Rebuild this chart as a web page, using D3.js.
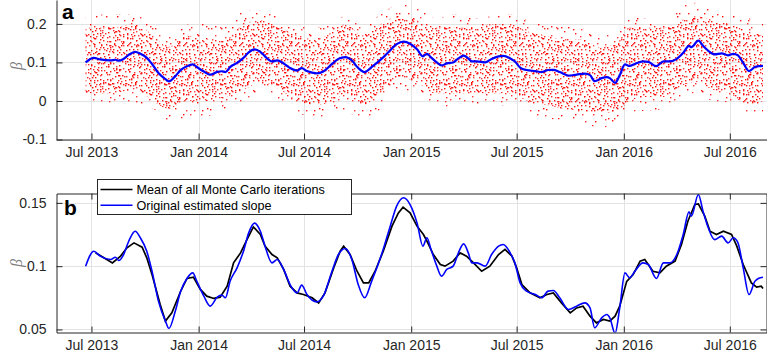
<!DOCTYPE html>
<html>
<head>
<meta charset="utf-8">
<script src="https://cdn.jsdelivr.net/npm/d3@7"></script>
<style>
  body { margin: 0; background: #fff; }
  svg { display: block; font-family: 'Liberation Sans', Arial, sans-serif; }
</style>
</head>
<body>
<div id="chart"></div>
<script>
// original estimated slope (blue, both panels)
const slopeDates = [
  '2013-06-21','2013-07-05','2013-07-16','2013-08-03','2013-08-11','2013-08-17','2013-08-25','2013-09-03','2013-09-14','2013-09-23',
  '2013-10-04','2013-10-13','2013-10-24','2013-11-05','2013-11-11','2013-11-22','2013-12-01','2013-12-12','2013-12-22','2013-12-29',
  '2014-01-10','2014-01-21','2014-02-02','2014-02-10','2014-02-16','2014-02-24','2014-03-08','2014-03-19','2014-03-28','2014-04-07',
  '2014-04-17','2014-04-25','2014-05-07','2014-05-16','2014-05-27','2014-06-07','2014-06-19','2014-06-27','2014-07-06','2014-07-23',
  '2014-08-03','2014-08-18','2014-08-29','2014-09-10','2014-09-21','2014-10-02','2014-10-13','2014-10-25','2014-11-12','2014-11-26',
  '2014-12-07','2014-12-19','2014-12-30',
  '2015-01-11','2015-01-21','2015-01-28','2015-02-04','2015-02-14','2015-02-22','2015-03-03','2015-03-14','2015-03-23','2015-04-01',
  '2015-04-09','2015-04-15','2015-04-24','2015-05-08','2015-05-19','2015-05-31','2015-06-08','2015-06-20','2015-06-28','2015-07-07',
  '2015-07-18','2015-08-02','2015-08-13','2015-08-24','2015-09-02','2015-09-13','2015-09-28','2015-10-12','2015-10-26','2015-11-04',
  '2015-11-12','2015-11-24','2015-12-03','2015-12-08','2015-12-17','2015-12-25',
  '2016-01-03','2016-01-11','2016-01-20','2016-02-03','2016-02-12','2016-02-26','2016-03-09','2016-03-20','2016-04-01','2016-04-12',
  '2016-04-22','2016-04-26','2016-05-08','2016-05-16','2016-05-25','2016-06-05','2016-06-17','2016-06-28','2016-07-07','2016-07-15',
  '2016-07-24','2016-08-03','2016-08-13','2016-08-19','2016-08-27'
];
const slopeValues = [
  0.100,0.1118,0.1079,0.1053,0.107,0.1045,0.109,0.1197,0.1276,0.1224,
  0.1118,0.096,0.0724,0.0566,0.0508,0.0645,0.080,0.0903,0.0947,0.088,
  0.0763,0.0684,0.0755,0.0771,0.075,0.088,0.0987,0.1118,0.1263,0.134,
  0.1276,0.1158,0.1026,0.1053,0.0974,0.0855,0.0789,0.085,0.0776,0.0718,
  0.0763,0.096,0.1092,0.114,0.1053,0.0855,0.075,0.088,0.1105,0.1316,
  0.1474,0.154,0.1487,
  0.1342,0.1158,0.1224,0.1132,0.100,0.0921,0.0974,0.100,0.1105,0.1176,
  0.1105,0.1026,0.1026,0.100,0.1092,0.1158,0.1171,0.1105,0.1026,0.0868,
  0.0803,0.0776,0.075,0.0803,0.0808,0.075,0.0658,0.0684,0.071,0.067,
  0.0513,0.0592,0.0618,0.0592,0.047,0.067,
  0.0947,0.0908,0.096,0.1026,0.1013,0.0903,0.1026,0.1026,0.1092,0.125,
  0.1429,0.1395,0.1566,0.1434,0.1303,0.121,0.1237,0.1184,0.1224,0.1184,
  0.0987,0.0776,0.088,0.0903,0.0913
];

// mean of all Monte Carlo iterations (black, panel b)
const meanDates = [
  '2013-07-08','2013-07-16','2013-08-06','2013-08-20','2013-08-31','2013-09-12','2013-09-26','2013-10-04','2013-10-13','2013-10-27',
  '2013-11-05','2013-11-16','2013-12-01','2013-12-12','2013-12-23',
  '2014-01-04','2014-01-15','2014-01-27','2014-02-07','2014-02-19','2014-03-02','2014-03-14','2014-03-25','2014-04-05','2014-04-17',
  '2014-04-25','2014-05-07','2014-05-16','2014-05-27','2014-06-07','2014-06-19','2014-06-30','2014-07-15','2014-07-26','2014-08-06',
  '2014-08-21','2014-09-01','2014-09-07','2014-09-18','2014-09-30','2014-10-11','2014-10-20','2014-10-31','2014-11-14','2014-11-29',
  '2014-12-10','2014-12-18','2014-12-30',
  '2015-01-11','2015-01-22','2015-01-28','2015-02-08','2015-02-20','2015-02-28','2015-03-14','2015-03-26','2015-04-06','2015-04-18',
  '2015-05-02','2015-05-16','2015-05-31','2015-06-11','2015-06-23','2015-07-01','2015-07-10','2015-07-24','2015-08-10','2015-08-22',
  '2015-09-02','2015-09-16','2015-10-01','2015-10-12','2015-10-23','2015-11-04','2015-11-15','2015-11-27','2015-12-08','2015-12-17',
  '2015-12-25',
  '2016-01-06','2016-01-17','2016-01-29','2016-02-06','2016-02-20','2016-03-03','2016-03-14','2016-03-29','2016-04-09','2016-04-20',
  '2016-05-02','2016-05-08','2016-05-19','2016-05-28','2016-06-08','2016-06-20','2016-07-04','2016-07-13','2016-07-24','2016-08-07',
  '2016-08-16','2016-08-24','2016-08-27'
];
const meanValues = [
  0.1105,0.1084,0.1026,0.108,0.1145,0.1184,0.115,0.1066,0.0934,0.0697,
  0.0566,0.0631,0.080,0.0903,0.0913,
  0.0816,0.0763,0.0745,0.0755,0.0842,0.1026,0.1105,0.121,0.131,0.125,
  0.1158,0.1092,0.1066,0.0974,0.0842,0.0789,0.0776,0.075,0.071,0.0789,
  0.0987,0.1118,0.1158,0.1092,0.096,0.0868,0.0868,0.096,0.1118,0.1316,
  0.1421,0.1466,0.1421,
  0.1316,0.125,0.1197,0.1092,0.1013,0.100,0.104,0.1105,0.1079,0.1026,
  0.096,0.100,0.1092,0.1132,0.1079,0.0987,0.0855,0.0789,0.075,0.0776,
  0.0789,0.071,0.0631,0.067,0.0684,0.0605,0.0552,0.0579,0.0566,0.0605,
  0.0684,
  0.088,0.0934,0.104,0.1053,0.096,0.0947,0.100,0.104,0.1171,0.1355,
  0.1487,0.1492,0.1395,0.1276,0.125,0.1276,0.125,0.1158,0.1013,0.0868,
  0.0834,0.0842,0.0824
];

// extent of the Monte Carlo scatter (red dots, panel a)
const cloudDates = [
  '2013-06-21','2013-08-01','2013-09-15','2013-10-15','2013-11-10','2013-12-10','2014-01-15','2014-02-15','2014-03-20','2014-04-20',
  '2014-05-20','2014-06-20','2014-07-20','2014-08-20','2014-09-10','2014-10-10','2014-11-10','2014-12-10','2015-01-10','2015-02-10',
  '2015-03-20','2015-04-20','2015-05-20','2015-06-20','2015-07-20','2015-08-20','2015-09-20','2015-10-20','2015-11-20','2015-12-20',
  '2016-01-10','2016-02-10','2016-03-10','2016-04-10','2016-05-05','2016-06-01','2016-07-01','2016-08-01','2016-08-27'
];
const cloudHigh = [0.22,0.225,0.225,0.2,0.17,0.2,0.2,0.2,0.235,0.235,0.22,0.2,0.19,0.21,0.22,0.2,0.225,0.25,0.245,0.215,
  0.225,0.215,0.22,0.225,0.21,0.2,0.195,0.19,0.17,0.18,0.215,0.215,0.21,0.245,0.255,0.24,0.225,0.215,0.2];
const cloudLow = [0.0,-0.005,-0.01,-0.02,-0.05,-0.045,-0.04,-0.02,0.0,0.02,0.0,-0.03,-0.045,-0.04,-0.03,-0.045,-0.02,0.03,0.02,-0.015,
  -0.015,-0.02,-0.015,-0.01,-0.03,-0.045,-0.05,-0.055,-0.07,-0.06,-0.03,-0.025,-0.02,0.01,0.02,0.0,-0.005,-0.03,-0.03];
const coreHigh = [0.19,0.19,0.2,0.17,0.14,0.17,0.16,0.16,0.2,0.21,0.19,0.17,0.16,0.18,0.2,0.17,0.2,0.22,0.21,0.19,
  0.19,0.19,0.2,0.2,0.18,0.17,0.16,0.16,0.14,0.15,0.19,0.19,0.19,0.21,0.22,0.21,0.2,0.18,0.17];
const coreLow = [0.02,0.02,0.03,0.0,-0.02,0.0,0.0,0.01,0.03,0.05,0.03,0.0,-0.01,0.0,0.02,-0.01,0.02,0.06,0.05,0.02,
  0.02,0.02,0.02,0.02,0.0,-0.01,-0.02,-0.025,-0.03,-0.03,0.0,0.01,0.01,0.04,0.05,0.03,0.02,-0.01,0.0];

const xTickDates = ['2013-07-01','2014-01-01','2014-07-01','2015-01-01','2015-07-01','2016-01-01','2016-07-01'];
const yTicksA = [-0.1, 0, 0.1, 0.2];
const yTicksB = [0.05, 0.1, 0.15];
const legendLabels = ['Mean of all Monte Carlo iterations', 'Original estimated slope'];

const parse = d3.utcParse('%Y-%m-%d');
const axisColor = '#262626';
const gridColor = '#e3e3e3';

const svg = d3.select('#chart').append('svg')
    .attr('width', 767)
    .attr('height', 352);

const left = 56.5, right = 766.5;
const x = d3.scaleUtc()
    .domain([parse('2013-05-02'), parse('2016-09-02')])
    .range([left, right]);
const yA = d3.scaleLinear().domain([-0.1, 0.262]).range([139.5, 0]);
const yB = d3.scaleLinear().domain([0.0476, 0.1574]).range([332.5, 193.5]);

const xTicks = xTickDates.map(parse);
const slope = slopeDates.map((d, i) => ({date: parse(d), v: slopeValues[i]}));
const mean = meanDates.map((d, i) => ({date: parse(d), v: meanValues[i]}));
const cloud = cloudDates.map((d, i) => ({
  date: parse(d), hi: cloudHigh[i], lo: cloudLow[i], chi: coreHigh[i], clo: coreLow[i]
}));

// dot texture for the scatter band: one jittered speck per grid cell
const defs = svg.append('defs');
const hash = n => {
  const s = Math.sin(n * 12.9898 + 4.1414) * 43758.5453;
  return s - Math.floor(s);
};
function dotPattern(id, cells, cell, seed) {
  const size = cells * cell;
  const p = defs.append('pattern')
      .attr('id', id)
      .attr('patternUnits', 'userSpaceOnUse')
      .attr('width', size)
      .attr('height', size);
  const spots = [];
  for (let r = 0; r < cells; r++) {
    for (let c = 0; c < cells; c++) {
      const k = seed + r * cells + c;
      spots.push([
        Math.floor((c + hash(k)) * cell),
        Math.floor((r + hash(k + 0.5)) * cell),
        hash(k + 0.25)
      ]);
    }
  }
  p.selectAll('rect').data(spots).enter().append('rect')
      .attr('x', d => Math.min(d[0], size - 2)).attr('y', d => Math.min(d[1], size - 2))
      .attr('width', 1.4).attr('height', 1.4)
      .attr('fill', '#ff0000')
      .attr('opacity', d => 0.75 + 0.25 * d[2]);
}
dotPattern('sparse', 8, 7, 11);
dotPattern('dense', 16, 3.5, 301);

defs.append('clipPath').attr('id', 'clipA').append('rect')
    .attr('x', left).attr('y', 0).attr('width', right - left).attr('height', 139.5);
defs.append('clipPath').attr('id', 'clipB').append('rect')
    .attr('x', left).attr('y', 193.5).attr('width', right - left).attr('height', 139);

function grid(g, yScale, yTicks, y0, y1) {
  g.selectAll('line.vx').data(xTicks).enter().append('line')
      .attr('x1', d => Math.round(x(d)) + 0.5).attr('x2', d => Math.round(x(d)) + 0.5)
      .attr('y1', y0).attr('y2', y1)
      .attr('stroke', gridColor);
  g.selectAll('line.hy').data(yTicks).enter().append('line')
      .attr('x1', left).attr('x2', right)
      .attr('y1', d => Math.round(yScale(d)) + 0.5).attr('y2', d => Math.round(yScale(d)) + 0.5)
      .attr('stroke', gridColor);
}

function styleAxis(g) {
  g.attr('font-family', "'Liberation Sans', Arial, sans-serif").attr('font-size', 14);
  g.selectAll('path, line').attr('stroke', axisColor);
  g.selectAll('text').attr('fill', axisColor);
}

const fmtX = d3.utcFormat('%b %Y');

// ---- panel a ----
const pa = svg.append('g');
grid(pa, yA, yTicksA, 0, 139.5);

const plotA = pa.append('g').attr('clip-path', 'url(#clipA)');
plotA.append('path')
    .datum(cloud)
    .attr('fill', 'url(#sparse)')
    .attr('d', d3.area().x(d => x(d.date)).y0(d => yA(d.lo)).y1(d => yA(d.hi)).curve(d3.curveMonotoneX));
plotA.append('path')
    .datum(cloud)
    .attr('fill', 'url(#dense)')
    .attr('d', d3.area().x(d => x(d.date)).y0(d => yA(d.clo)).y1(d => yA(d.chi)).curve(d3.curveMonotoneX));
plotA.append('path')
    .datum(slope)
    .attr('fill', 'none')
    .attr('stroke', '#0000ff')
    .attr('stroke-width', 2.2)
    .attr('d', d3.line().x(d => x(d.date)).y(d => yA(d.v)).curve(d3.curveMonotoneX));

pa.append('g')
    .attr('transform', 'translate(0,139.5)')
    .call(d3.axisBottom(x).tickValues(xTicks).tickFormat(fmtX)
        .tickSizeInner(-6).tickSizeOuter(0).tickPadding(8))
    .call(styleAxis);
pa.append('g')
    .attr('transform', `translate(${left},0)`)
    .call(d3.axisLeft(yA).tickValues(yTicksA).tickFormat(d => String(d))
        .tickSizeInner(-6).tickSizeOuter(0).tickPadding(10))
    .call(styleAxis);

pa.append('text')
    .attr('x', 62).attr('y', 19)
    .attr('font-size', 21).attr('font-weight', 'bold')
    .attr('fill', '#000')
    .text('a');
pa.append('text')
    .attr('transform', 'translate(22,66) rotate(-90)')
    .attr('text-anchor', 'middle')
    .attr('font-family', "'Liberation Serif', serif")
    .attr('font-style', 'italic')
    .attr('font-size', 16)
    .attr('fill', '#808080')
    .text('β');

// ---- panel b ----
const pb = svg.append('g');
pb.append('rect')
    .attr('x', left).attr('y', 193.5).attr('width', right - left).attr('height', 139)
    .attr('fill', '#fff');
grid(pb, yB, yTicksB, 193.5, 332.5);

const plotB = pb.append('g').attr('clip-path', 'url(#clipB)');
const lineB = d3.line().x(d => x(d.date)).y(d => yB(d.v));
plotB.append('path')
    .datum(mean)
    .attr('fill', 'none')
    .attr('stroke', '#000')
    .attr('stroke-width', 1.7)
    .attr('d', lineB.curve(d3.curveLinear));
plotB.append('path')
    .datum(slope)
    .attr('fill', 'none')
    .attr('stroke', '#0000ff')
    .attr('stroke-width', 1.6)
    .attr('d', lineB.curve(d3.curveMonotoneX));

pb.append('g')
    .attr('transform', 'translate(0,332.5)')
    .call(d3.axisBottom(x).tickValues(xTicks).tickFormat(fmtX)
        .tickSizeInner(-6).tickSizeOuter(0).tickPadding(8))
    .call(styleAxis);
pb.append('g')
    .attr('transform', 'translate(0,193.5)')
    .call(d3.axisTop(x).tickValues(xTicks).tickFormat('')
        .tickSizeInner(-6).tickSizeOuter(0))
    .call(styleAxis);
pb.append('g')
    .attr('transform', `translate(${left},0)`)
    .call(d3.axisLeft(yB).tickValues(yTicksB).tickFormat(d => String(d))
        .tickSizeInner(-6).tickSizeOuter(0).tickPadding(10))
    .call(styleAxis);
pb.append('g')
    .attr('transform', `translate(${right},0)`)
    .call(d3.axisRight(yB).tickValues(yTicksB).tickFormat('')
        .tickSizeInner(-6).tickSizeOuter(0))
    .call(styleAxis);

pb.append('text')
    .attr('x', 64).attr('y', 215)
    .attr('font-size', 21).attr('font-weight', 'bold')
    .attr('fill', '#000')
    .text('b');
pb.append('text')
    .attr('transform', 'translate(22,263) rotate(-90)')
    .attr('text-anchor', 'middle')
    .attr('font-family', "'Liberation Serif', serif")
    .attr('font-style', 'italic')
    .attr('font-size', 16)
    .attr('fill', '#808080')
    .text('β');

// legend
const legend = pb.append('g').attr('transform', 'translate(97.5,179.5)');
legend.append('rect')
    .attr('width', 254).attr('height', 35)
    .attr('fill', '#fff')
    .attr('stroke', axisColor);
const entries = legend.selectAll('g.entry')
    .data(legendLabels)
    .enter().append('g')
    .attr('class', 'entry')
    .attr('transform', (d, i) => `translate(0,${10 + i * 15.7})`);
entries.append('line')
    .attr('x1', 3).attr('x2', 35)
    .attr('stroke', (d, i) => i === 0 ? '#000' : '#0000ff')
    .attr('stroke-width', 1.6);
entries.append('text')
    .attr('x', 39).attr('dy', '0.36em')
    .attr('font-size', 12.6)
    .attr('fill', '#000')
    .text(d => d);
</script>
</body>
</html>
